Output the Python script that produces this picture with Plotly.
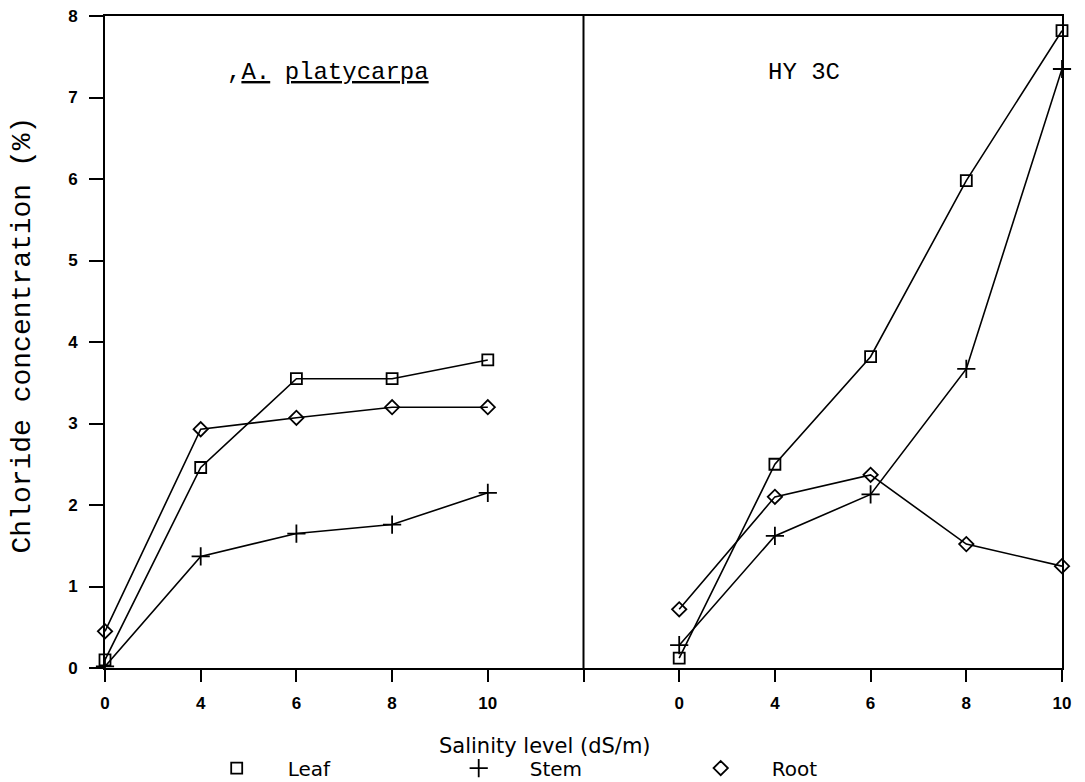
import plotly.graph_objects as go

# ---- data ----
salinity = [0, 4, 6, 8, 10]
panels = ["A. platycarpa", "HY 3C"]
leaf_platy = [0.10, 2.46, 3.55, 3.55, 3.78]
stem_platy = [0.02, 1.37, 1.65, 1.76, 2.15]
root_platy = [0.45, 2.93, 3.07, 3.20, 3.20]
leaf_hy = [0.12, 2.50, 3.82, 5.98, 7.82]
stem_hy = [0.28, 1.62, 2.13, 3.67, 7.35]
root_hy = [0.72, 2.10, 2.37, 1.52, 1.25]
y_ticks = [0, 1, 2, 3, 4, 5, 6, 7, 8]
series_names = ["Leaf", "Stem", "Root"]

# positions on a shared x axis: left panel slots 0..4, divider at 5, right panel 6..10
left_pos = list(range(len(salinity)))
divider_pos = len(salinity)
right_pos = [divider_pos + 1 + i for i in range(len(salinity))]
tick_pos = left_pos + [divider_pos] + right_pos
tick_text = [str(s) for s in salinity] + [""] + [str(s) for s in salinity]

symbols = {"Leaf": "square-open", "Stem": "cross-thin-open", "Root": "diamond-open"}
sizes = {"Leaf": 11, "Stem": 13, "Root": 11}
values = {
    "Leaf": (leaf_platy, leaf_hy),
    "Stem": (stem_platy, stem_hy),
    "Root": (root_platy, root_hy),
}

tick_font = dict(family="Liberation Sans", size=17, color="black", weight="bold")
legend_font = dict(family="DejaVu Sans", size=20, color="black")
title_font = dict(family="DejaVu Sans", size=21, color="black")
mono_font = dict(family="Liberation Mono", size=24, color="black")

fig = go.Figure()
for name in series_names:
    left_vals, right_vals = values[name]
    xs = left_pos + [None] + right_pos
    ys = left_vals + [None] + right_vals
    fig.add_trace(go.Scatter(
        x=xs, y=ys, mode="lines+markers", name=name, showlegend=False,
        line=dict(color="black", width=1.6),
        marker=dict(symbol=symbols[name], size=sizes[name], color="black",
                    line=dict(color="black", width=1.8)),
        cliponaxis=False,
    ))
    # legend-only marker entry
    fig.add_trace(go.Scatter(
        x=[None], y=[None], mode="markers", name=name, showlegend=True,
        marker=dict(symbol=symbols[name], size=sizes[name], color="black",
                    line=dict(color="black", width=1.8)),
    ))

# panel divider
fig.add_shape(type="line", xref="x", yref="y", x0=divider_pos, x1=divider_pos,
              y0=y_ticks[0], y1=y_ticks[-1], line=dict(color="black", width=2))

# the page body adds an 8 px offset, so the figure is 8 px smaller than the window
fig.update_layout(
    width=1077, height=774,
    margin=dict(l=97, r=23, t=8, b=114, autoexpand=False),
    paper_bgcolor="white", plot_bgcolor="white",
    showlegend=True,
    legend=dict(orientation="h", xref="container", yref="container",
                x=0.165, xanchor="left", y=0.018, yanchor="middle",
                font=legend_font, itemwidth=92, entrywidth=135, entrywidthmode="pixels",
                bgcolor="rgba(0,0,0,0)", tracegroupgap=0),
    xaxis=dict(range=[left_pos[0], right_pos[-1]], tickvals=tick_pos, ticktext=tick_text,
               showline=True, linecolor="black", linewidth=2, mirror=True,
               ticks="outside", ticklen=12, tickwidth=2, tickcolor="black",
               tickfont=tick_font, ticklabelstandoff=7, automargin=False,
               ticklabeloverflow="allow",
               showgrid=False, zeroline=False),
    yaxis=dict(range=[y_ticks[0], y_ticks[-1]], tickvals=y_ticks,
               showline=True, linecolor="black", linewidth=2, mirror=True,
               ticks="outside", ticklen=14, tickwidth=2, tickcolor="black",
               tickfont=tick_font, ticklabelstandoff=8, automargin=False,
               ticklabeloverflow="allow",
               showgrid=False, zeroline=False),
    annotations=[
        dict(text="Chloride concentration (%)", xref="paper", yref="paper",
             x=-0.0867, y=0.51, xanchor="center", yanchor="middle", textangle=-90,
             showarrow=False, font=dict(family="Liberation Mono", size=28, color="black")),
        dict(text="Salinity level (dS/m)", xref="paper", yref="paper",
             x=0.460, y=-0.119, xanchor="center", yanchor="middle",
             showarrow=False, font=title_font),
        dict(text=",<u>A.</u> <u>platycarpa</u>", xref="paper", yref="paper",
             x=0.125, y=0.914, xanchor="left", yanchor="middle",
             showarrow=False, font=mono_font),
        dict(text="HY 3C", xref="paper", yref="paper",
             x=0.730, y=0.914, xanchor="center", yanchor="middle",
             showarrow=False, font=mono_font),
    ],
)

fig.write_html("out.html")
